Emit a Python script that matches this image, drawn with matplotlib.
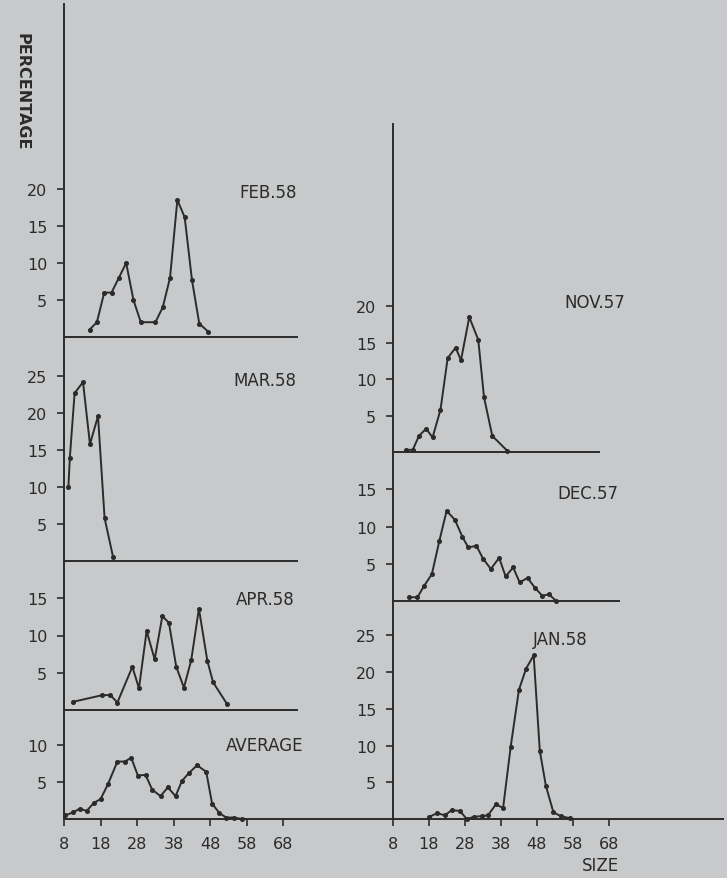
import matplotlib
matplotlib.use('Agg')
import matplotlib.pyplot as plt

W, H = 727, 879
BG = '#c8c9ca'
INK = '#2b2b2b'

# size classes / percentages
feb_x = [15, 17, 19, 21, 23, 25, 27, 29, 33, 35, 37, 39, 41, 43, 45, 47.5]
feb_y = [1, 2, 6, 6, 8, 10, 5, 2, 2, 4, 8, 18.5, 16.2, 7.7, 1.8, 0.7]

mar_x = [9.2, 9.6, 10.9, 13.2, 15.1, 17.3, 19.1, 21.4]
mar_y = [10, 14, 22.7, 24.2, 15.8, 19.6, 5.8, 0.6]

apr_x = [10.5, 18.5, 20.7, 22.6, 26.7, 28.5, 30.6, 32.8, 34.9, 36.7, 38.7,
         40.8, 42.8, 44.9, 47.2, 48.8, 52.6]
apr_y = [1.1, 2, 2, 1, 5.8, 2.9, 10.6, 6.8, 12.6, 11.7, 5.8, 3, 6.7, 13.6,
         6.6, 3.7, 0.8]

avg_x = [8.4, 10.5, 12.3, 14.2, 16.2, 18, 20, 22.6, 24.6, 26.4, 28.2, 30.3,
         32.1, 34.4, 36.4, 38.5, 40.3, 42.3, 44.4, 46.9, 48.5, 50.5, 52.4,
         54.4, 56.7]
avg_y = [0.5, 0.9, 1.4, 1.1, 2.2, 2.7, 4.7, 7.8, 7.8, 8.3, 5.9, 6, 4, 3.1,
         4.3, 3.1, 5.2, 6.3, 7.3, 6.4, 2.1, 0.8, 0.2, 0.2, 0]

nov_x = [11.6, 13.5, 15.2, 17.2, 19, 21.2, 23.2, 25.4, 26.9, 29.2, 31.7,
         33.3, 35.6, 39.7]
nov_y = [0.3, 0.3, 2.2, 3.2, 2, 5.8, 12.9, 14.3, 12.6, 18.5, 15.4, 7.5, 2.2,
         0.2]

dec_x = [12.5, 14.8, 16.6, 18.8, 20.9, 22.9, 25.2, 27.3, 28.9, 31.2, 33,
         35.2, 37.5, 39.3, 41.4, 43.2, 45.4, 47.4, 49.5, 51.3, 53.4]
dec_y = [0.5, 0.5, 2, 3.6, 8.1, 12.1, 10.9, 8.6, 7.2, 7.4, 5.7, 4.3, 5.8,
         3.3, 4.5, 2.5, 3.1, 1.8, 0.7, 0.9, 0]

jan_x = [18.1, 20.3, 22.4, 24.3, 26.6, 28.5, 30.5, 32.6, 34.4, 36.6, 38.6,
         40.7, 43, 45, 47.1, 48.8, 50.5, 52.6, 54.6, 57.2]
jan_y = [0.3, 0.8, 0.5, 1.2, 1.1, 0, 0.3, 0.4, 0.5, 2, 1.5, 9.8, 17.6, 20.5,
         22.3, 9.3, 4.5, 0.9, 0.4, 0.1]

size_ticks = [8, 18, 28, 38, 48, 58, 68]

plt.rcParams['font.family'] = 'DejaVu Sans'

fig = plt.figure(figsize=(W / 100, H / 100), dpi=100, facecolor=BG)


def panel(x0, ytop, x1, ybot, xlim, ylim, xs, ys, yticks, base_end,
          xticks=None):
    ax = fig.add_axes([x0 / W, 1 - ybot / H, (x1 - x0) / W, (ybot - ytop) / H])
    ax.set_facecolor('none')
    ax.set_xlim(*xlim)
    ax.set_ylim(*ylim)
    for s in ['top', 'right', 'bottom']:
        ax.spines[s].set_visible(False)
    ax.spines['left'].set_color(INK)
    ax.spines['left'].set_linewidth(1.4)
    # baseline of each panel
    ax.plot([xlim[0], base_end], [0, 0], color=INK, lw=1.4, clip_on=False,
            solid_capstyle='butt')
    ax.plot(xs, ys, color=INK, lw=1.4, marker='o', ms=2.6, clip_on=False)
    ax.set_yticks(yticks)
    ax.set_yticklabels([str(t) for t in yticks])
    ax.tick_params(axis='y', direction='out', length=5, width=1.2,
                   colors=INK, labelsize=11.5, pad=7)
    if xticks is None:
        ax.set_xticks([])
    else:
        ax.set_xticks(xticks)
        ax.set_xticklabels([str(t) for t in xticks])
        ax.tick_params(axis='x', direction='out', length=5, width=1.2,
                       colors=INK, labelsize=11.5, pad=7)
    return ax


# left column (x = 8 at px 64, 3.66 px per size unit)
L0, L1 = 64, 298
lx = (8, 72)
panel(L0, 5, L1, 338, lx, (0, 45), feb_x, feb_y, [5, 10, 15, 20], 72)
panel(L0, 338, L1, 562, lx, (0, 30.3), mar_x, mar_y, [5, 10, 15, 20, 25], 72)
panel(L0, 562, L1, 711, lx, (0, 20), apr_x, apr_y, [5, 10, 15], 72)
# the average baseline runs on to meet the right-hand axis
panel(L0, 711, L1, 820, lx, (0, 14.8), avg_x, avg_y, [5, 10], 97.9,
      xticks=size_ticks)

# right column (x = 8 at px 393, 3.6 px per size unit)
R0, R1 = 393, 724
rx = (8, 100)
panel(R0, 125, R1, 453, rx, (0, 45), nov_x, nov_y, [5, 10, 15, 20], 65.5)
panel(R0, 453, R1, 602, rx, (0, 20), dec_x, dec_y, [5, 10, 15], 71)
panel(R0, 602, R1, 820, rx, (0, 29.7), jan_x, jan_y, [5, 10, 15, 20, 25],
      100, xticks=size_ticks)

labels = [('FEB.58', 268, 193), ('MAR.58', 265, 381), ('APR.58', 265, 600),
          ('AVERAGE', 265, 746), ('NOV.57', 595, 303), ('DEC.57', 588, 494),
          ('JAN.58', 560, 640)]
for txt, px, py in labels:
    fig.text(px / W, 1 - py / H, txt, ha='center', va='center',
             fontsize=12, color=INK)

fig.text(22 / W, 1 - 92 / H, 'PERCENTAGE', rotation=-90, ha='center',
         va='center', fontsize=11.5, fontweight='bold', color=INK)
fig.text(600 / W, 1 - 866 / H, 'SIZE', ha='center', va='center',
         fontsize=12, color=INK)

fig.savefig('out.png', dpi=100, facecolor=BG)
